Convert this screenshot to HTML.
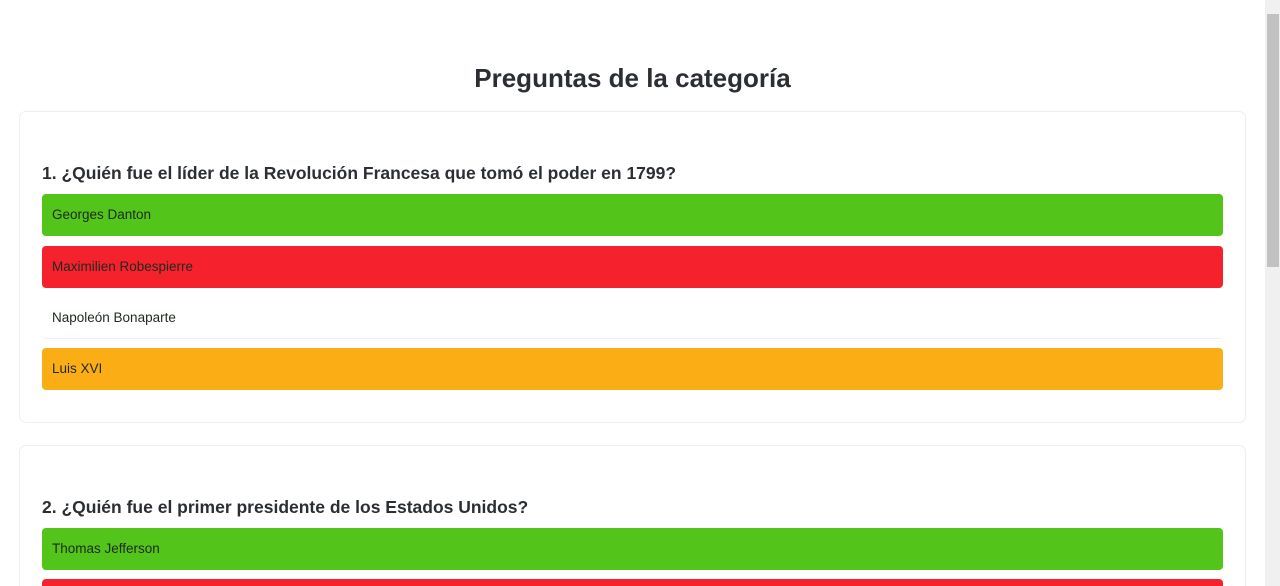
<!DOCTYPE html>
<html style="width:1280px;height:586px;overflow:hidden"><head><meta charset="utf-8"><style>
body{margin:0;width:1280px;height:586px;overflow:hidden;background:#fff;font-family:"Liberation Sans",sans-serif;color:#212529;position:relative}
.title{position:absolute;left:0;width:1265px;top:63px;text-align:center;font-size:26px;font-weight:bold;margin:0;color:#2b2f33}
.card{position:absolute;left:19px;width:1225px;border:1px solid #eceef0;border-radius:7px;background:#fff}
.q{position:absolute;left:22px;font-size:17.5px;margin:0;font-weight:bold;color:#2b2f33;white-space:nowrap}
.opt{position:absolute;left:22px;width:1181px;height:42px;border-radius:4px;font-size:13.5px;line-height:42px;padding-left:10px;box-sizing:border-box;color:#1f2a1f}
.g{background:#52c41a}.r{background:#f5222d}.o{background:#faad14}.w{background:#fff;border-bottom:1px solid #eee}
.sb{position:absolute;left:1265px;top:0;width:15px;height:586px;background:#f0f0f0}
.th{position:absolute;left:2px;top:14px;width:12px;height:253px;background:#c1c1c1}
</style></head><body>
<h1 class="title">Preguntas de la categoría</h1>
<div class="card" style="top:111px;height:310px">
<p class="q" style="top:51px">1. ¿Quién fue el líder de la Revolución Francesa que tomó el poder en 1799?</p>
<div class="opt g" style="top:82px">Georges Danton</div>
<div class="opt r" style="top:134px">Maximilien Robespierre</div>
<div class="opt w" style="top:185px">Napoleón Bonaparte</div>
<div class="opt o" style="top:236px">Luis XVI</div>
</div>
<div class="card" style="top:445px;height:160px;border-bottom:none">
<p class="q" style="top:51px">2. ¿Quién fue el primer presidente de los Estados Unidos?</p>
<div class="opt g" style="top:82px">Thomas Jefferson</div>
<div class="opt r" style="top:133px;height:27px"></div>
</div>
<div class="sb"><div class="th"></div></div>
</body></html>
